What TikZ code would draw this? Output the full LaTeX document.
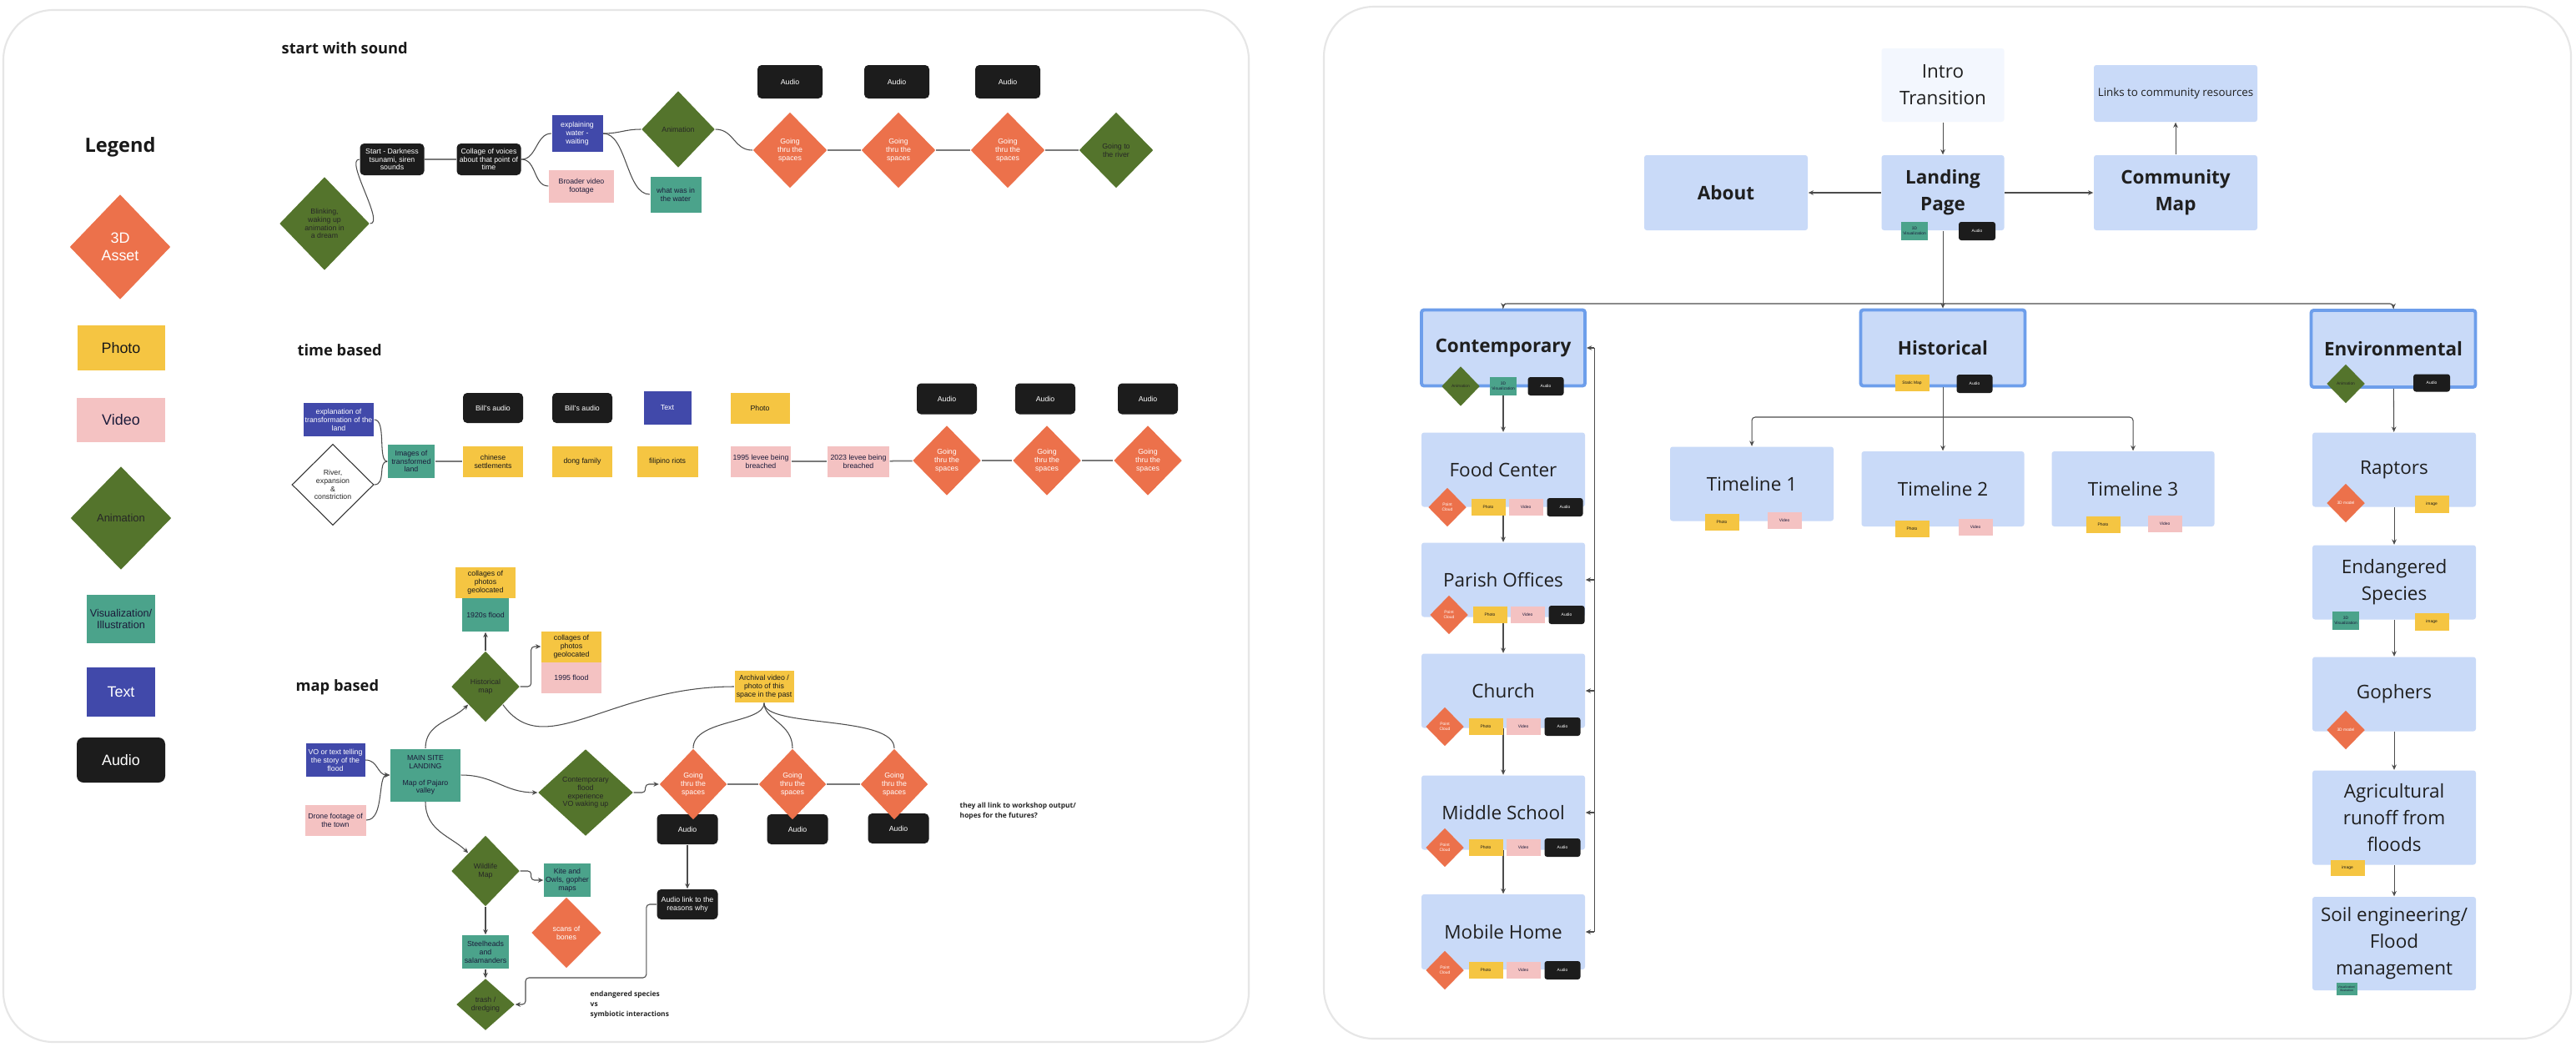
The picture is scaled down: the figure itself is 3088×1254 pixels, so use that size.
\documentclass[tikz,border=0pt]{standalone}
\usepackage{fontspec}
\setmainfont{Open Sans}
\newfontfamily\arialfont{Liberation Sans}
\usetikzlibrary{shapes.geometric,arrows.meta}

\definecolor{assetorange}{HTML}{EC714B}
\definecolor{photoyellow}{HTML}{F5C542}
\definecolor{videopink}{HTML}{F4C2C2}
\definecolor{animgreen}{HTML}{54742C}
\definecolor{vizteal}{HTML}{4BA38B}
\definecolor{textblue}{HTML}{4149AA}
\definecolor{audioblack}{HTML}{1C1C1C}
\definecolor{navytext}{HTML}{1B1B3A}
\definecolor{pageblue}{HTML}{C9DAF8}
\definecolor{pageedge}{HTML}{6D9EEB}
\definecolor{introfill}{HTML}{F3F7FE}
\definecolor{panelgray}{HTML}{E6E6E6}
\definecolor{linkgray}{HTML}{7A7A7A}

\newcommand{\tinytext}{\arialfont\fontsize{2.5}{2.8}\selectfont}
\newcommand{\legendtext}{\arialfont\fontsize{5.1}{5.8}\selectfont}
\newcommand{\chiptext}{\arialfont\fontsize{1.4}{1.6}\selectfont}
\newcommand{\pagetext}{\fontsize{6.4}{9.1}\selectfont}
\newcommand{\headtext}{\bfseries\fontsize{5.2}{6}\selectfont}
\newcommand{\notetext}{\bfseries\fontsize{2.4}{3.4}\selectfont}

\tikzset{
  wh/.style 2 args={minimum width=#1*0.01cm, minimum height=#2*0.01cm},
  chip/.style={inner sep=0pt, align=center, font=\tinytext},
  asset/.style={chip, diamond, fill=assetorange, text=white},
  anim/.style={chip, diamond, fill=animgreen, text=black!85},
  photo/.style={chip, rectangle, fill=photoyellow, text=black!90},
  video/.style={chip, rectangle, fill=videopink, text=navytext},
  viz/.style={chip, rectangle, fill=vizteal, text=navytext},
  textbox/.style={chip, rectangle, fill=textblue, text=white},
  audio/.style={chip, rectangle, rounded corners=0.05cm, fill=audioblack, text=white},
  page/.style={rectangle, rounded corners=0.03cm, fill=pageblue, align=center, font=\pagetext, text=black!88, inner sep=0pt},
  section/.style={page, draw=pageedge, line width=1.1pt, font=\pagetext\bfseries},
  flat/.style={draw=linkgray, line width=0.5pt},
  curve/.style={draw=black!70, line width=0.3pt},
  arrowlink/.style={draw=black!70, line width=0.3pt, -{Stealth[length=1.8pt,width=1.6pt]}},
  panel/.style={draw=panelgray, line width=0.6pt, rounded corners=0.6cm},
  note/.style={anchor=west, align=left, inner sep=0pt, font=\notetext, text=black!85},
  heading/.style={anchor=west, inner sep=0pt, font=\headtext, text=black!90}
}

\begin{document}
\begin{tikzpicture}[x=0.01cm, y=-0.01cm]
\useasboundingbox (0,0) rectangle (3088,1254);
\fill [white] (0,0) rectangle (3088,1254);
\draw [panel] (4,12) rectangle (1497,1249);
\draw [panel] (1587,8) rectangle (3082,1245);

\node (legend) [font=\bfseries\fontsize{6.7}{8}\selectfont, text=black!90] at (144,176) {Legend};
\node (lgasset) [asset, wh={121}{126}, font=\legendtext] at (144,296) {3D\\Asset};
\node (lgphoto) [photo, wh={105}{54}, font=\legendtext] at (145,417) {Photo};
\node (lgvideo) [video, wh={106}{53}, font=\legendtext] at (145,503) {Video};
\node (lganim) [anim, wh={121}{124}, font=\arialfont\fontsize{3.7}{4.2}\selectfont] at (145,621) {Animation};
\node (lgviz) [viz, wh={82}{58}, font=\arialfont\fontsize{3.6}{4.1}\selectfont] at (145,742) {Visualization/\\Illustration};
\node (lgtext) [textbox, wh={82}{59}, font=\legendtext] at (145,829) {Text};
\node (lgaudio) [audio, wh={106}{54}, font=\legendtext, rounded corners=0.08cm] at (145,911) {Audio};

\node (sound) [heading] at (337,58) {start with sound};
\node (blink) [anim, wh={108}{112}] at (389,268) {Blinking,\\waking up\\animation in\\a dream};
\node (dark) [audio, wh={77}{38}] at (470,191) {Start - Darkness\\tsunami, siren\\sounds};
\node (voices) [audio, wh={77}{38}] at (586,191) {Collage of voices\\about that point of\\time};
\node (waterwait) [textbox, wh={61}{44}] at (692,160) {explaining\\water -\\waiting};
\node (broader) [video, wh={78}{39}] at (697,223) {Broader video\\footage};
\node (animA) [anim, wh={88}{92}] at (813,155) {Animation};
\node (inwater) [viz, wh={61}{43}] at (810,233) {what was in\\the water};
\node (sa1) [audio, wh={78}{40}] at (947,98) {Audio};
\node (sa2) [audio, wh={78}{40}] at (1075,98) {Audio};
\node (sa3) [audio, wh={78}{40}] at (1208,98) {Audio};
\node (sg1) [asset, wh={89}{91}] at (947,180) {Going\\thru the\\spaces};
\node (sg2) [asset, wh={89}{91}] at (1077,180) {Going\\thru the\\spaces};
\node (sg3) [asset, wh={89}{91}] at (1208,180) {Going\\thru the\\spaces};
\node (river) [anim, wh={89}{91}] at (1338,180) {Going to\\the river};

\draw [curve] (blink.east) .. controls +(18,0) and +(-18,0) .. (dark.west);
\draw [flat] (dark) -- (voices);
\draw [curve] (voices.east) .. controls +(18,0) and +(-18,0) .. (waterwait.west);
\draw [curve] (voices.east) .. controls +(18,0) and +(-18,0) .. (broader.west);
\draw [curve] (waterwait.east) .. controls +(20,0) and +(-20,0) .. (animA.west);
\draw [curve] (waterwait.east) .. controls +(28,0) and +(-28,0) .. (inwater.west);
\draw [curve] (animA.east) .. controls +(22,0) and +(-22,0) .. (sg1.west);
\draw [flat] (sg1) -- (sg2);
\draw [flat] (sg2) -- (sg3);
\draw [flat] (sg3) -- (river);

\node (timebased) [heading] at (356,420) {time based};
\node (landexp) [textbox, wh={84}{40}] at (406,503) {explanation of\\transformation of the\\land};
\node (riverdia) [chip, diamond, draw=black!80, line width=0.3pt, fill=white, text=black!85, wh={98}{97}] at (399,581) {River,\\expansion\\\&\\constriction};
\node (transformed) [viz, wh={56}{40}] at (493,553) {Images of\\transformed\\land};
\node (bill1) [audio, wh={72}{36}] at (591,489) {Bill's audio};
\node (bill2) [audio, wh={72}{36}] at (698,489) {Bill's audio};
\node (textchip) [textbox, wh={57}{40}] at (800,489) {Text};
\node (photochip) [photo, wh={71}{37}] at (911,489) {Photo};
\node (chinese) [photo, wh={72}{37}] at (591,553) {chinese\\settlements};
\node (dong) [photo, wh={72}{37}] at (698,553) {dong family};
\node (filipino) [photo, wh={73}{37}] at (800,553) {filipino riots};
\node (levee95) [video, wh={72}{37}] at (912,553) {1995 levee being\\breached};
\node (levee23) [video, wh={74}{37}] at (1029,553) {2023 levee being\\breached};
\node (ta1) [audio, wh={72}{37}] at (1135,478) {Audio};
\node (ta2) [audio, wh={72}{37}] at (1253,478) {Audio};
\node (ta3) [audio, wh={72}{37}] at (1376,478) {Audio};
\node (tg1) [asset, wh={82}{84}] at (1135,552) {Going\\thru the\\spaces};
\node (tg2) [asset, wh={82}{84}] at (1255,552) {Going\\thru the\\spaces};
\node (tg3) [asset, wh={82}{84}] at (1376,552) {Going\\thru the\\spaces};

\draw [curve] (landexp.east) .. controls +(15,0) and +(-12,0) .. (transformed.west);
\draw [curve] (riverdia.east) .. controls +(15,0) and +(-12,0) .. (transformed.west);
\draw [flat] (transformed) -- (chinese);
\draw [flat] (levee95) -- (levee23);
\draw [flat] (levee23) -- (tg1);
\draw [flat] (tg1) -- (tg2);
\draw [flat] (tg2) -- (tg3);

\node (mapbased) [heading] at (354,824) {map based};
\node (collage20) [photo, wh={72}{37}] at (582,698) {collages of\\photos\\geolocated};
\node (flood20) [viz, wh={56}{40}] at (582,737) {1920s flood};
\node (histmap) [anim, wh={82}{85}] at (582,823) {Historical\\map};
\node (collage95) [photo, wh={72}{37}] at (685,775) {collages of\\photos\\geolocated};
\node (flood95) [video, wh={72}{37}] at (685,812) {1995 flood};
\node (archival) [photo, wh={71}{38}] at (916,823) {Archival video /\\photo of this\\space in the past};
\node (votext) [textbox, wh={71}{40}] at (402,911) {VO or text telling\\the story of the\\flood};
\node (mainsite) [viz, wh={84}{63}] at (510,929) {MAIN SITE\\LANDING\\[2.8pt]Map of Pajaro\\valley};
\node (contflood) [anim, wh={114}{104}] at (702,950) {Contemporary\\flood\\experience\\VO waking up};
\node (drone) [video, wh={73}{37}] at (402,983) {Drone footage of\\the town};
\node (ma1) [audio, wh={73}{36}] at (824,994) {Audio};
\node (ma2) [audio, wh={73}{36}] at (956,994) {Audio};
\node (ma3) [audio, wh={73}{36}] at (1077,993) {Audio};
\node (mg1) [asset, wh={81}{85}] at (831,940) {Going\\thru the\\spaces};
\node (mg2) [asset, wh={81}{85}] at (950,940) {Going\\thru the\\spaces};
\node (mg3) [asset, wh={81}{85}] at (1072,940) {Going\\thru the\\spaces};
\node (wildlife) [anim, wh={82}{85}] at (582,1044) {Wildlife\\Map};
\node (kite) [viz, wh={56}{40}] at (680,1055) {Kite and\\Owls, gopher\\maps};
\node (bones) [asset, wh={84}{85}] at (679,1118) {scans of\\bones};
\node (steel) [viz, wh={56}{40}] at (582,1141) {Steelheads\\and\\salamanders};
\node (trash) [anim, wh={70}{62}] at (582,1204) {trash /\\dredging};
\node (reasons) [audio, wh={73}{36}] at (824,1084) {Audio link to the\\reasons why};
\node (futures) [note] at (1150,972) {they all link to workshop output/\\hopes for the futures?};
\node (species) [note] at (707,1204) {endangered species\\vs\\symbiotic interactions};

\draw [arrowlink] (histmap) -- (flood20);
\draw [arrowlink, rounded corners=0.04cm] (histmap.east) -- ++(13,0) |- (collage95.west);
\draw [curve] (histmap.south east) .. controls +(50,70) and +(-150,0) .. (archival.west);
\draw [curve] (archival.south) .. controls +(0,25) and +(0,-35) .. (mg1.north);
\draw [curve] (archival.south) .. controls +(0,20) and +(0,-30) .. (mg2.north);
\draw [curve] (archival.south) .. controls +(0,30) and +(0,-40) .. (mg3.north);
\draw [arrowlink] (mainsite.north) .. controls +(0,-30) and +(-20,20) .. (histmap.south west);
\draw [arrowlink] (votext.east) .. controls +(15,0) and +(-15,0) .. (mainsite.west);
\draw [arrowlink] (drone.east) .. controls +(22,0) and +(-15,0) .. (mainsite.west);
\draw [arrowlink] (mainsite.east) .. controls +(40,0) and +(-40,0) .. (contflood.west);
\draw [arrowlink, rounded corners=0.04cm] (contflood.east) -- ++(14,0) |- (mg1.west);
\draw [flat] (mg1) -- (mg2);
\draw [flat] (mg2) -- (mg3);
\draw [arrowlink] (mainsite.south) .. controls +(0,35) and +(-20,-20) .. (wildlife.north west);
\draw [arrowlink, rounded corners=0.04cm] (wildlife.east) -- ++(13,0) |- (kite.west);
\draw [arrowlink] (wildlife) -- (steel);
\draw [arrowlink] (steel) -- (trash);
\draw [arrowlink] (ma1) -- (reasons);
\draw [arrowlink, rounded corners=0.04cm] (reasons.west) -- ++(-12,0) |- (630,1172) |- (trash.east);

\node (intro) [page, fill=introfill, wh={147}{88}] at (2329,102) {Intro\\Transition};
\node (links) [page, wh={196}{68}, font=\fontsize{3.8}{4.5}\selectfont] at (2608,112) {Links to community resources};
\node (about) [page, wh={196}{90}, font=\pagetext\bfseries] at (2069,231) {About};
\node (landing) [page, wh={147}{90}, font=\pagetext\bfseries] at (2329,231) {Landing\\Page};
\node (community) [page, wh={196}{90}, font=\pagetext\bfseries] at (2608,231) {Community\\Map};
\node (contemp) [section, wh={196}{91}] at (1802,417) {Contemporary};
\node (hist) [section, wh={197}{91}] at (2329,417) {Historical};
\node (env) [section, wh={197}{92}] at (2869,418) {Environmental};
\node (t1) [page, wh={196}{89}] at (2100,580) {Timeline 1};
\node (t2) [page, wh={195}{90}] at (2329,586) {Timeline 2};
\node (t3) [page, wh={195}{90}] at (2557,586) {Timeline 3};
\node (food) [page, wh={196}{89}] at (1802,563) {Food Center};
\node (parish) [page, wh={196}{89}] at (1802,695) {Parish Offices};
\node (church) [page, wh={196}{89}] at (1802,828) {Church};
\node (middle) [page, wh={196}{89}] at (1802,974) {Middle School};
\node (mobile) [page, wh={196}{90}] at (1802,1117) {Mobile Home};
\node (raptors) [page, wh={196}{89}] at (2870,563) {Raptors};
\node (endangered) [page, wh={196}{89}] at (2870,698) {Endangered\\Species};
\node (gophers) [page, wh={196}{89}] at (2870,832) {Gophers};
\node (runoff) [page, wh={196}{113}] at (2870,980) {Agricultural\\runoff from\\floods};
\node (soil) [page, wh={196}{112}] at (2870,1131) {Soil engineering/\\Flood\\management};

\draw [arrowlink] (intro) -- (landing);
\draw [arrowlink] (landing) -- (about);
\draw [arrowlink] (landing) -- (community);
\draw [arrowlink] (community) -- (links);
\coordinate (bar) at (2329,364);
\draw [curve] (landing.south) -- (bar);
\draw [arrowlink, rounded corners=0.04cm] (bar) -| (contemp.north);
\draw [arrowlink] (bar) -- (hist.north);
\draw [arrowlink, rounded corners=0.04cm] (bar) -| (env.north);
\coordinate (tbar) at (2329,500);
\draw [curve] (hist.south) -- (tbar);
\draw [arrowlink, rounded corners=0.04cm] (tbar) -| (t1.north);
\draw [arrowlink] (tbar) -- (t2.north);
\draw [arrowlink, rounded corners=0.04cm] (tbar) -| (t3.north);
\draw [arrowlink] (contemp) -- (food);
\draw [arrowlink] (food) -- (parish);
\draw [arrowlink] (parish) -- (church);
\draw [arrowlink] (church) -- (middle);
\draw [arrowlink] (middle) -- (mobile);
\coordinate (bus) at (1911,417);
\draw [curve] (bus) -- (bus |- mobile.east);
\draw [arrowlink] (bus) -- (contemp.east);
\draw [arrowlink] (bus |- parish.east) -- (parish.east);
\draw [arrowlink] (bus |- church.east) -- (church.east);
\draw [arrowlink] (bus |- middle.east) -- (middle.east);
\draw [arrowlink] (bus |- mobile.east) -- (mobile.east);
\draw [arrowlink] (env) -- (raptors);
\draw [arrowlink] (raptors) -- (endangered);
\draw [arrowlink] (endangered) -- (gophers);
\draw [arrowlink] (gophers) -- (runoff);
\draw [arrowlink] (runoff) -- (soil);

\node (lpviz) [viz, wh={32}{22}, font=\chiptext] at (2295,277) {3D\\Visualization};
\node (lpaudio) [audio, wh={44}{22}, font=\chiptext, rounded corners=0.03cm] at (2370,277) {Audio};

\node (ctanim) [anim, wh={46}{48}, font=\chiptext] at (1751,463) {Animation};
\node (ctviz) [viz, wh={32}{22}, font=\chiptext] at (1802,463) {3D\\Visualization};
\node (ctaudio) [audio, wh={43}{22}, font=\chiptext, rounded corners=0.03cm] at (1853,463) {Audio};
\node (hsmap) [photo, wh={41}{20}, font=\chiptext] at (2292,459) {Static Map};
\node (hsaudio) [audio, wh={43}{22}, font=\chiptext, rounded corners=0.03cm] at (2367,460) {Audio};
\node (evanim) [anim, wh={46}{47}, font=\chiptext] at (2812,460) {Animation};
\node (evaudio) [audio, wh={44}{21}, font=\chiptext, rounded corners=0.03cm] at (2915,459) {Audio};

\node (t1photo) [photo, wh={41}{20}, font=\chiptext] at (2064,626) {Photo};
\node (t1video) [video, wh={41}{20}, font=\chiptext] at (2139,624) {Video};
\node (t2photo) [photo, wh={41}{20}, font=\chiptext] at (2292,634) {Photo};
\node (t2video) [video, wh={41}{20}, font=\chiptext] at (2368,632) {Video};
\node (t3photo) [photo, wh={41}{20}, font=\chiptext] at (2521,629) {Photo};
\node (t3video) [video, wh={41}{20}, font=\chiptext] at (2595,628) {Video};

\node (fdcloud) [asset, wh={46}{47}, font=\chiptext] at (1735,608) {Point\\Cloud};
\node (fdphoto) [photo, wh={41}{20}, font=\chiptext] at (1784,608) {Photo};
\node (fdvideo) [video, wh={41}{20}, font=\chiptext] at (1829,608) {Video};
\node (fdaudio) [audio, wh={43}{22}, font=\chiptext, rounded corners=0.03cm] at (1876,608) {Audio};
\node (pocloud) [asset, wh={46}{47}, font=\chiptext] at (1737,737) {Point\\Cloud};
\node (pophoto) [photo, wh={41}{20}, font=\chiptext] at (1786,737) {Photo};
\node (povideo) [video, wh={41}{20}, font=\chiptext] at (1831,737) {Video};
\node (poaudio) [audio, wh={43}{22}, font=\chiptext, rounded corners=0.03cm] at (1878,737) {Audio};
\node (chcloud) [asset, wh={46}{47}, font=\chiptext] at (1732,871) {Point\\Cloud};
\node (chphoto) [photo, wh={41}{20}, font=\chiptext] at (1781,871) {Photo};
\node (chvideo) [video, wh={41}{20}, font=\chiptext] at (1826,871) {Video};
\node (chaudio) [audio, wh={43}{22}, font=\chiptext, rounded corners=0.03cm] at (1873,871) {Audio};
\node (mscloud) [asset, wh={46}{47}, font=\chiptext] at (1732,1016) {Point\\Cloud};
\node (msphoto) [photo, wh={41}{20}, font=\chiptext] at (1781,1016) {Photo};
\node (msvideo) [video, wh={41}{20}, font=\chiptext] at (1826,1016) {Video};
\node (msaudio) [audio, wh={43}{22}, font=\chiptext, rounded corners=0.03cm] at (1873,1016) {Audio};
\node (mhcloud) [asset, wh={46}{47}, font=\chiptext] at (1732,1163) {Point\\Cloud};
\node (mhphoto) [photo, wh={41}{20}, font=\chiptext] at (1781,1163) {Photo};
\node (mhvideo) [video, wh={41}{20}, font=\chiptext] at (1826,1163) {Video};
\node (mhaudio) [audio, wh={43}{22}, font=\chiptext, rounded corners=0.03cm] at (1873,1163) {Audio};

\node (rpmodel) [asset, wh={46}{47}, font=\chiptext] at (2812,603) {3D model};
\node (rpimage) [photo, wh={41}{21}, font=\chiptext] at (2915,604) {image};
\node (esviz) [viz, wh={32}{22}, font=\chiptext] at (2812,744) {3D\\Visualization};
\node (esimage) [photo, wh={41}{21}, font=\chiptext] at (2915,745) {image};
\node (gpmodel) [asset, wh={46}{47}, font=\chiptext] at (2812,875) {3D model};
\node (arimage) [photo, wh={41}{19}, font=\chiptext] at (2814,1040) {image};
\node (slviz) [viz, wh={25}{15}, font=\arialfont\fontsize{1}{1.2}\selectfont] at (2813,1185) {Visualization/\\Illustration};
\end{tikzpicture}
\end{document}
